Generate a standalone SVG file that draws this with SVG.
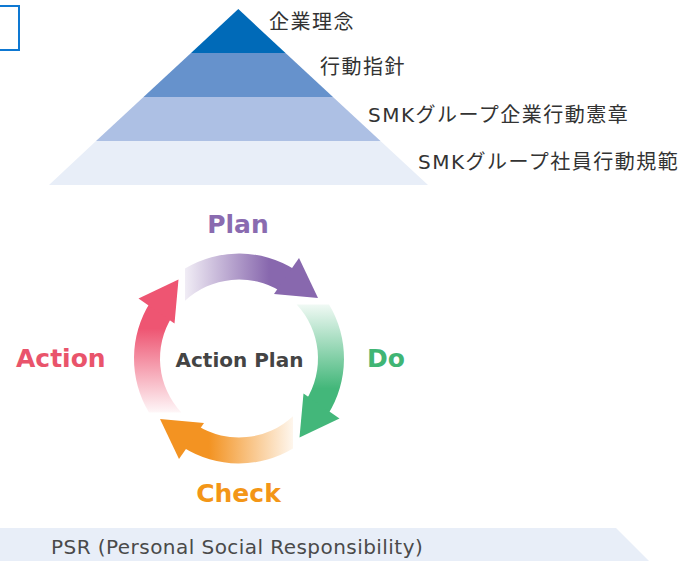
<svg xmlns="http://www.w3.org/2000/svg" width="680" height="561" viewBox="0 0 680 561">
<defs>
<style>
.jp{font-family:"DejaVu Sans","Noto Sans CJK JP",sans-serif;font-size:20px;letter-spacing:1.5px;fill:#333}
.pd{font-family:"DejaVu Sans",sans-serif;font-weight:bold;font-size:25px}
.psr{font-family:"DejaVu Sans",sans-serif;font-size:20px;letter-spacing:0.45px;fill:#4a4a4a}
</style>
<linearGradient id="gP" gradientUnits="userSpaceOnUse" x1="-54" y1="0" x2="30" y2="0"><stop offset="0" stop-color="#8868ae" stop-opacity="0.12"/><stop offset="1" stop-color="#8868ae"/></linearGradient>
<linearGradient id="gD" gradientUnits="userSpaceOnUse" x1="-54" y1="0" x2="30" y2="0"><stop offset="0" stop-color="#43b77a" stop-opacity="0.08"/><stop offset="1" stop-color="#43b77a"/></linearGradient>
<linearGradient id="gC" gradientUnits="userSpaceOnUse" x1="-54" y1="0" x2="30" y2="0"><stop offset="0" stop-color="#f39322" stop-opacity="0.08"/><stop offset="1" stop-color="#f39322"/></linearGradient>
<linearGradient id="gA" gradientUnits="userSpaceOnUse" x1="-54" y1="0" x2="30" y2="0"><stop offset="0" stop-color="#ee5572" stop-opacity="0.05"/><stop offset="1" stop-color="#ee5572"/></linearGradient>
<path id="body" d="M -54 -90.05 A 105 105 0 0 1 55.64 -89.04 L 41.86 -66.99 A 79 79 0 0 0 -54 -57.66 Z"/>
<path id="head" d="M 60 -100.5 L 79 -60.5 L 35 -64.5 Z"/>
</defs>
<rect width="680" height="561" fill="#fff"/>
<g id="corner-box"><rect x="-10" y="6" width="29" height="44" fill="none" stroke="#0e78d2" stroke-width="2"/></g>
<g id="pyramid">
<g id="tier4"><polygon points="96,141 380.5,141 428,185 49,185" fill="#e8eef8"/><text class="jp" x="418" y="168.5">SMKグループ社員行動規範</text></g>
<g id="tier3"><polygon points="143.5,97 333,97 380.5,141 96,141" fill="#adc0e4"/><text class="jp" x="368" y="121.5">SMKグループ企業行動憲章</text></g>
<g id="tier2"><polygon points="191,53 285.5,53 333,97 143.5,97" fill="#6692cc"/><text class="jp" x="320" y="73.5">行動指針</text></g>
<g id="tier1"><polygon points="238.3,9 285.5,53 191,53" fill="#006ab8"/><text class="jp" x="269" y="28.5">企業理念</text></g>
</g>
<g id="connectors">
<g id="arrow-plan" transform="translate(239 358.5)"><use href="#body" fill="url(#gP)"/><use href="#head" fill="#8868ae"/></g>
<g id="arrow-do" transform="translate(239 358.5) rotate(90)"><use href="#body" fill="url(#gD)"/><use href="#head" fill="#43b77a"/></g>
<g id="arrow-check" transform="translate(239 358.5) rotate(180)"><use href="#body" fill="url(#gC)"/><use href="#head" fill="#f39322"/></g>
<g id="arrow-action" transform="translate(239 358.5) rotate(270)"><use href="#body" fill="url(#gA)"/><use href="#head" fill="#ee5572"/></g>
</g>
<g id="center"><text class="pd" x="239.5" y="366.5" style="font-size:20px" text-anchor="middle" fill="#444">Action Plan</text></g>
<g id="plan"><text class="pd" x="238" y="233" text-anchor="middle" fill="#8a6bb0">Plan</text></g>
<g id="do"><text class="pd" x="367" y="367" fill="#40b574">Do</text></g>
<g id="check"><text class="pd" x="238.5" y="501.5" text-anchor="middle" fill="#f39617">Check</text></g>
<g id="action"><text class="pd" x="16" y="367" fill="#e9546b">Action</text></g>
<g id="psr"><polygon points="0,528 616,528 649,561 0,561" fill="#e8eef8"/><text class="psr" x="51" y="554">PSR (Personal Social Responsibility)</text></g>
</svg>
